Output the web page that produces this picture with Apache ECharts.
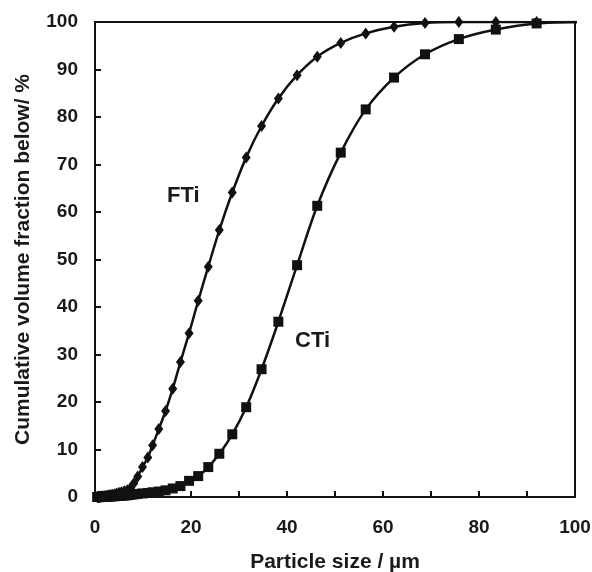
<!DOCTYPE html>
<html>
<head>
<meta charset="utf-8">
<script src="https://cdn.jsdelivr.net/npm/echarts@6/dist/echarts.min.js"></script>
<style>
  html, body { margin: 0; padding: 0; background: #fff; }
  #container { width: 592px; height: 572px; }
</style>
</head>
<body>
<div id="container"></div>
<script>
// particle size bins (µm)
const sizes = [0.48, 0.53, 0.58, 0.64, 0.71, 0.78, 0.86, 0.95, 1.05, 1.15, 1.27, 1.4, 1.55, 1.7, 1.9,
  2.1, 2.3, 2.5, 2.8, 3.1, 3.4, 3.7, 4.1, 4.5, 5.0, 5.5, 6.1, 6.7, 7.4, 8.1, 8.9, 9.9, 11.0, 12.0,
  13.3, 14.7, 16.2, 17.8, 19.6, 21.5, 23.6, 25.9, 28.6, 31.5, 34.7, 38.2, 42.1, 46.3, 51.2, 56.4,
  62.3, 68.75, 75.8, 83.5, 92, 101.5];

// cumulative volume fraction below (%)
const fti = [0, 0, 0, 0, 0, 0.01, 0.02, 0.03, 0.04, 0.05, 0.06, 0.08, 0.1, 0.12, 0.15,
  0.18, 0.22, 0.26, 0.3, 0.36, 0.42, 0.5, 0.6, 0.72, 0.88, 1.0, 1.2, 1.4, 1.9, 2.9, 4.3, 6.3, 8.3, 10.9,
  14.3, 18.1, 22.8, 28.4, 34.5, 41.3, 48.5, 56.2, 64.1, 71.5, 78.1, 83.9, 88.8, 92.7, 95.6, 97.6,
  99.0, 99.8, 100, 100, 100, 100];

const cti = [0, 0, 0, 0, 0, 0, 0, 0, 0.01, 0.01, 0.02, 0.02, 0.03, 0.04, 0.05,
  0.06, 0.07, 0.08, 0.1, 0.12, 0.14, 0.16, 0.18, 0.2, 0.22, 0.26, 0.3, 0.36, 0.45, 0.55, 0.65, 0.75, 0.85, 1.0,
  1.15, 1.4, 1.8, 2.3, 3.4, 4.4, 6.3, 9.1, 13.2, 18.9, 26.9, 36.9, 48.8, 61.3, 72.5, 81.6,
  88.3, 93.2, 96.4, 98.4, 99.7, 100];

const ftiData = sizes.map((s, i) => [s, fti[i]]);
const ctiData = sizes.map((s, i) => [s, cti[i]]);

const chart = echarts.init(document.getElementById('container'));
const font = 'Liberation Sans, Arial, sans-serif';
const ink = '#1a1a1a';

chart.setOption({
  animation: false,
  grid: {
    left: 95, right: 17, top: 22, bottom: 75,
    outerBoundsMode: 'none', containLabel: false,
    show: true, borderColor: '#111', borderWidth: 2, backgroundColor: 'transparent'
  },
  xAxis: {
    type: 'value', min: 0, max: 100, interval: 20,
    name: 'Particle size / µm', nameLocation: 'middle', nameGap: 55,
    nameTextStyle: { color: ink, fontFamily: font, fontWeight: 'bold', fontSize: 21 },
    axisLine: { lineStyle: { color: '#111', width: 2 } },
    axisTick: { inside: true, length: 6, lineStyle: { color: '#111', width: 2 } },
    minorTick: { show: true, splitNumber: 2, length: 6, lineStyle: { color: '#111', width: 2 } },
    splitLine: { show: false },
    axisLabel: { color: ink, fontFamily: font, fontWeight: 'bold', fontSize: 19, margin: 21 }
  },
  yAxis: {
    type: 'value', min: 0, max: 100, interval: 10,
    name: 'Cumulative volume fraction below/ %', nameLocation: 'middle', nameGap: 61,
    nameTextStyle: { color: ink, fontFamily: font, fontWeight: 'bold', fontSize: 21 },
    axisLine: { lineStyle: { color: '#111', width: 2 } },
    axisTick: { inside: true, length: 6, lineStyle: { color: '#111', width: 2 } },
    splitLine: { show: false },
    axisLabel: { color: ink, fontFamily: font, fontWeight: 'bold', fontSize: 19, margin: 17 }
  },
  series: [
    {
      name: 'FTi', type: 'line', data: ftiData, smooth: 0.3, clip: true,
      symbol: 'diamond', symbolSize: [9, 12],
      itemStyle: { color: '#111' },
      lineStyle: { color: '#111', width: 2.5 }
    },
    {
      name: 'CTi', type: 'line', data: ctiData, smooth: 0.3, clip: true,
      symbol: 'rect', symbolSize: 10,
      itemStyle: { color: '#111' },
      lineStyle: { color: '#111', width: 2.5 }
    }
  ],
  graphic: [
    { type: 'text', left: 167, top: 185,
      style: { text: 'FTi', fill: ink, font: 'bold 22px ' + font } },
    { type: 'text', left: 295, top: 330,
      style: { text: 'CTi', fill: ink, font: 'bold 22px ' + font } }
  ]
});
</script>
</body>
</html>
